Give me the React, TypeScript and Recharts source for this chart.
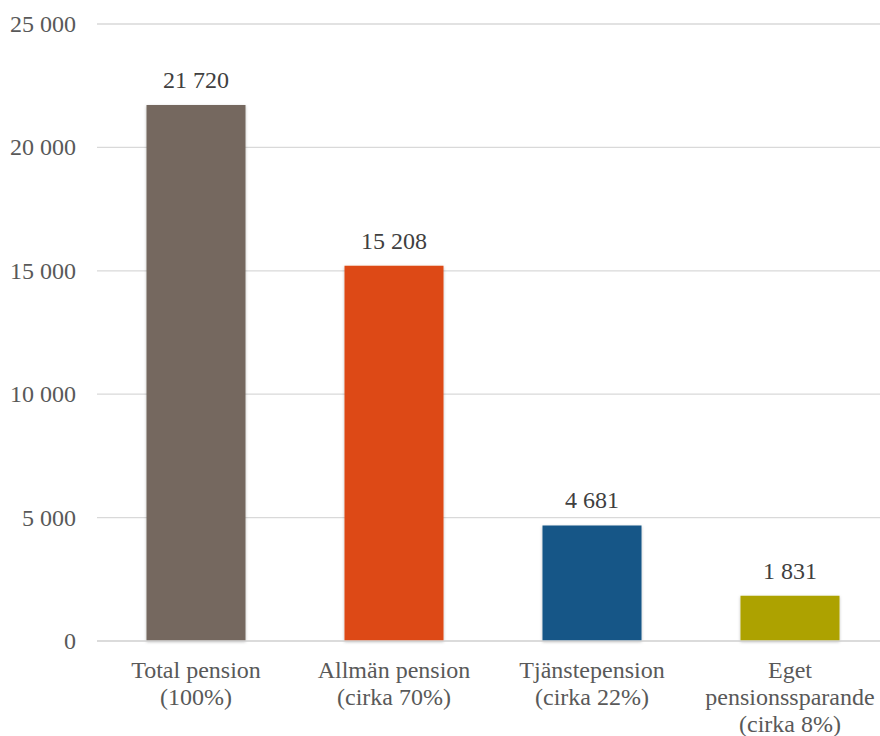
import { BarChart, Bar, XAxis, YAxis, CartesianGrid, Cell, LabelList } from "recharts";

const categories = ["Total pension", "Allmän pension", "Tjänstepension", "Eget pensionssparande"];
const tickLines = [
  ["Total pension", "(100%)"],
  ["Allmän pension", "(cirka 70%)"],
  ["Tjänstepension", "(cirka 22%)"],
  ["Eget", "pensionssparande", "(cirka 8%)"],
];
const values = [21720, 15208, 4681, 1831];
const colors = ["#75685f", "#dd4a14", "#135687", "#ada200"];
const yTicks = [0, 5000, 10000, 15000, 20000, 25000];

const FONT = "Liberation Serif";
const FS = 24;

const fmt = (v: number) => String(v).replace(/\B(?=(\d{3})+(?!\d))/g, " ");

const data = categories.map((name, i) => ({ name, value: values[i], idx: i }));

function CategoryTick(props: any) {
  const { x, y, index } = props;
  const lines = tickLines[index] ?? [];
  return (
    <text x={x} y={y} textAnchor="middle" fill="#595959" style={{ fontFamily: FONT, fontSize: FS }}>
      {lines.map((line, i) => (
        <tspan key={i} x={x} y={y + 37 + i * 27}>
          {line}
        </tspan>
      ))}
    </text>
  );
}

function ValueLabel(props: any) {
  const { x, y, width, value } = props;
  return (
    <text x={x + width / 2} y={y - 17} textAnchor="middle" fill="#404040" style={{ fontFamily: FONT, fontSize: FS }}>
      {fmt(value)}
    </text>
  );
}

function ValueTick(props: any) {
  const { x, y, payload } = props;
  return (
    <text x={x} y={y + 8} textAnchor="end" fill="#595959" style={{ fontFamily: FONT, fontSize: FS }}>
      {fmt(payload.value)}
    </text>
  );
}

export default function App() {
  return (
    <div
      style={{
        position: "absolute",
        left: 0,
        top: 0,
        width: 880,
        height: 736,
        overflow: "hidden",
        background: "#fff",
        fontFamily: FONT,
      }}
    >
      <BarChart
        width={889}
        height={736}
        data={data}
        margin={{ top: 24, right: 0, bottom: 0, left: 0 }}
        barCategoryGap="25%"
      >
        <defs>
          <filter id="barShadow" x="-10%" y="-10%" width="120%" height="120%">
            <feDropShadow dx="0" dy="1" stdDeviation="1.5" floodColor="#000" floodOpacity="0.25" />
          </filter>
        </defs>
        <CartesianGrid vertical={false} stroke="#d9d9d9" strokeWidth={1.3} />
        <XAxis
          dataKey="name"
          height={95}
          interval={0}
          axisLine={{ stroke: "#d9d9d9", strokeWidth: 1.3 }}
          tickLine={false}
          tickSize={0}
          tickMargin={0}
          tick={<CategoryTick />}
        />
        <YAxis
          width={97}
          domain={[0, 25000]}
          ticks={yTicks}
          axisLine={false}
          tickLine={false}
          tickSize={0}
          tickMargin={21}
          tick={<ValueTick />}
        />
        <Bar dataKey="value" isAnimationActive={false} filter="url(#barShadow)">
          {data.map((d) => (
            <Cell key={d.name} fill={colors[d.idx]} />
          ))}
          <LabelList dataKey="value" content={<ValueLabel />} />
        </Bar>
      </BarChart>
    </div>
  );
}
